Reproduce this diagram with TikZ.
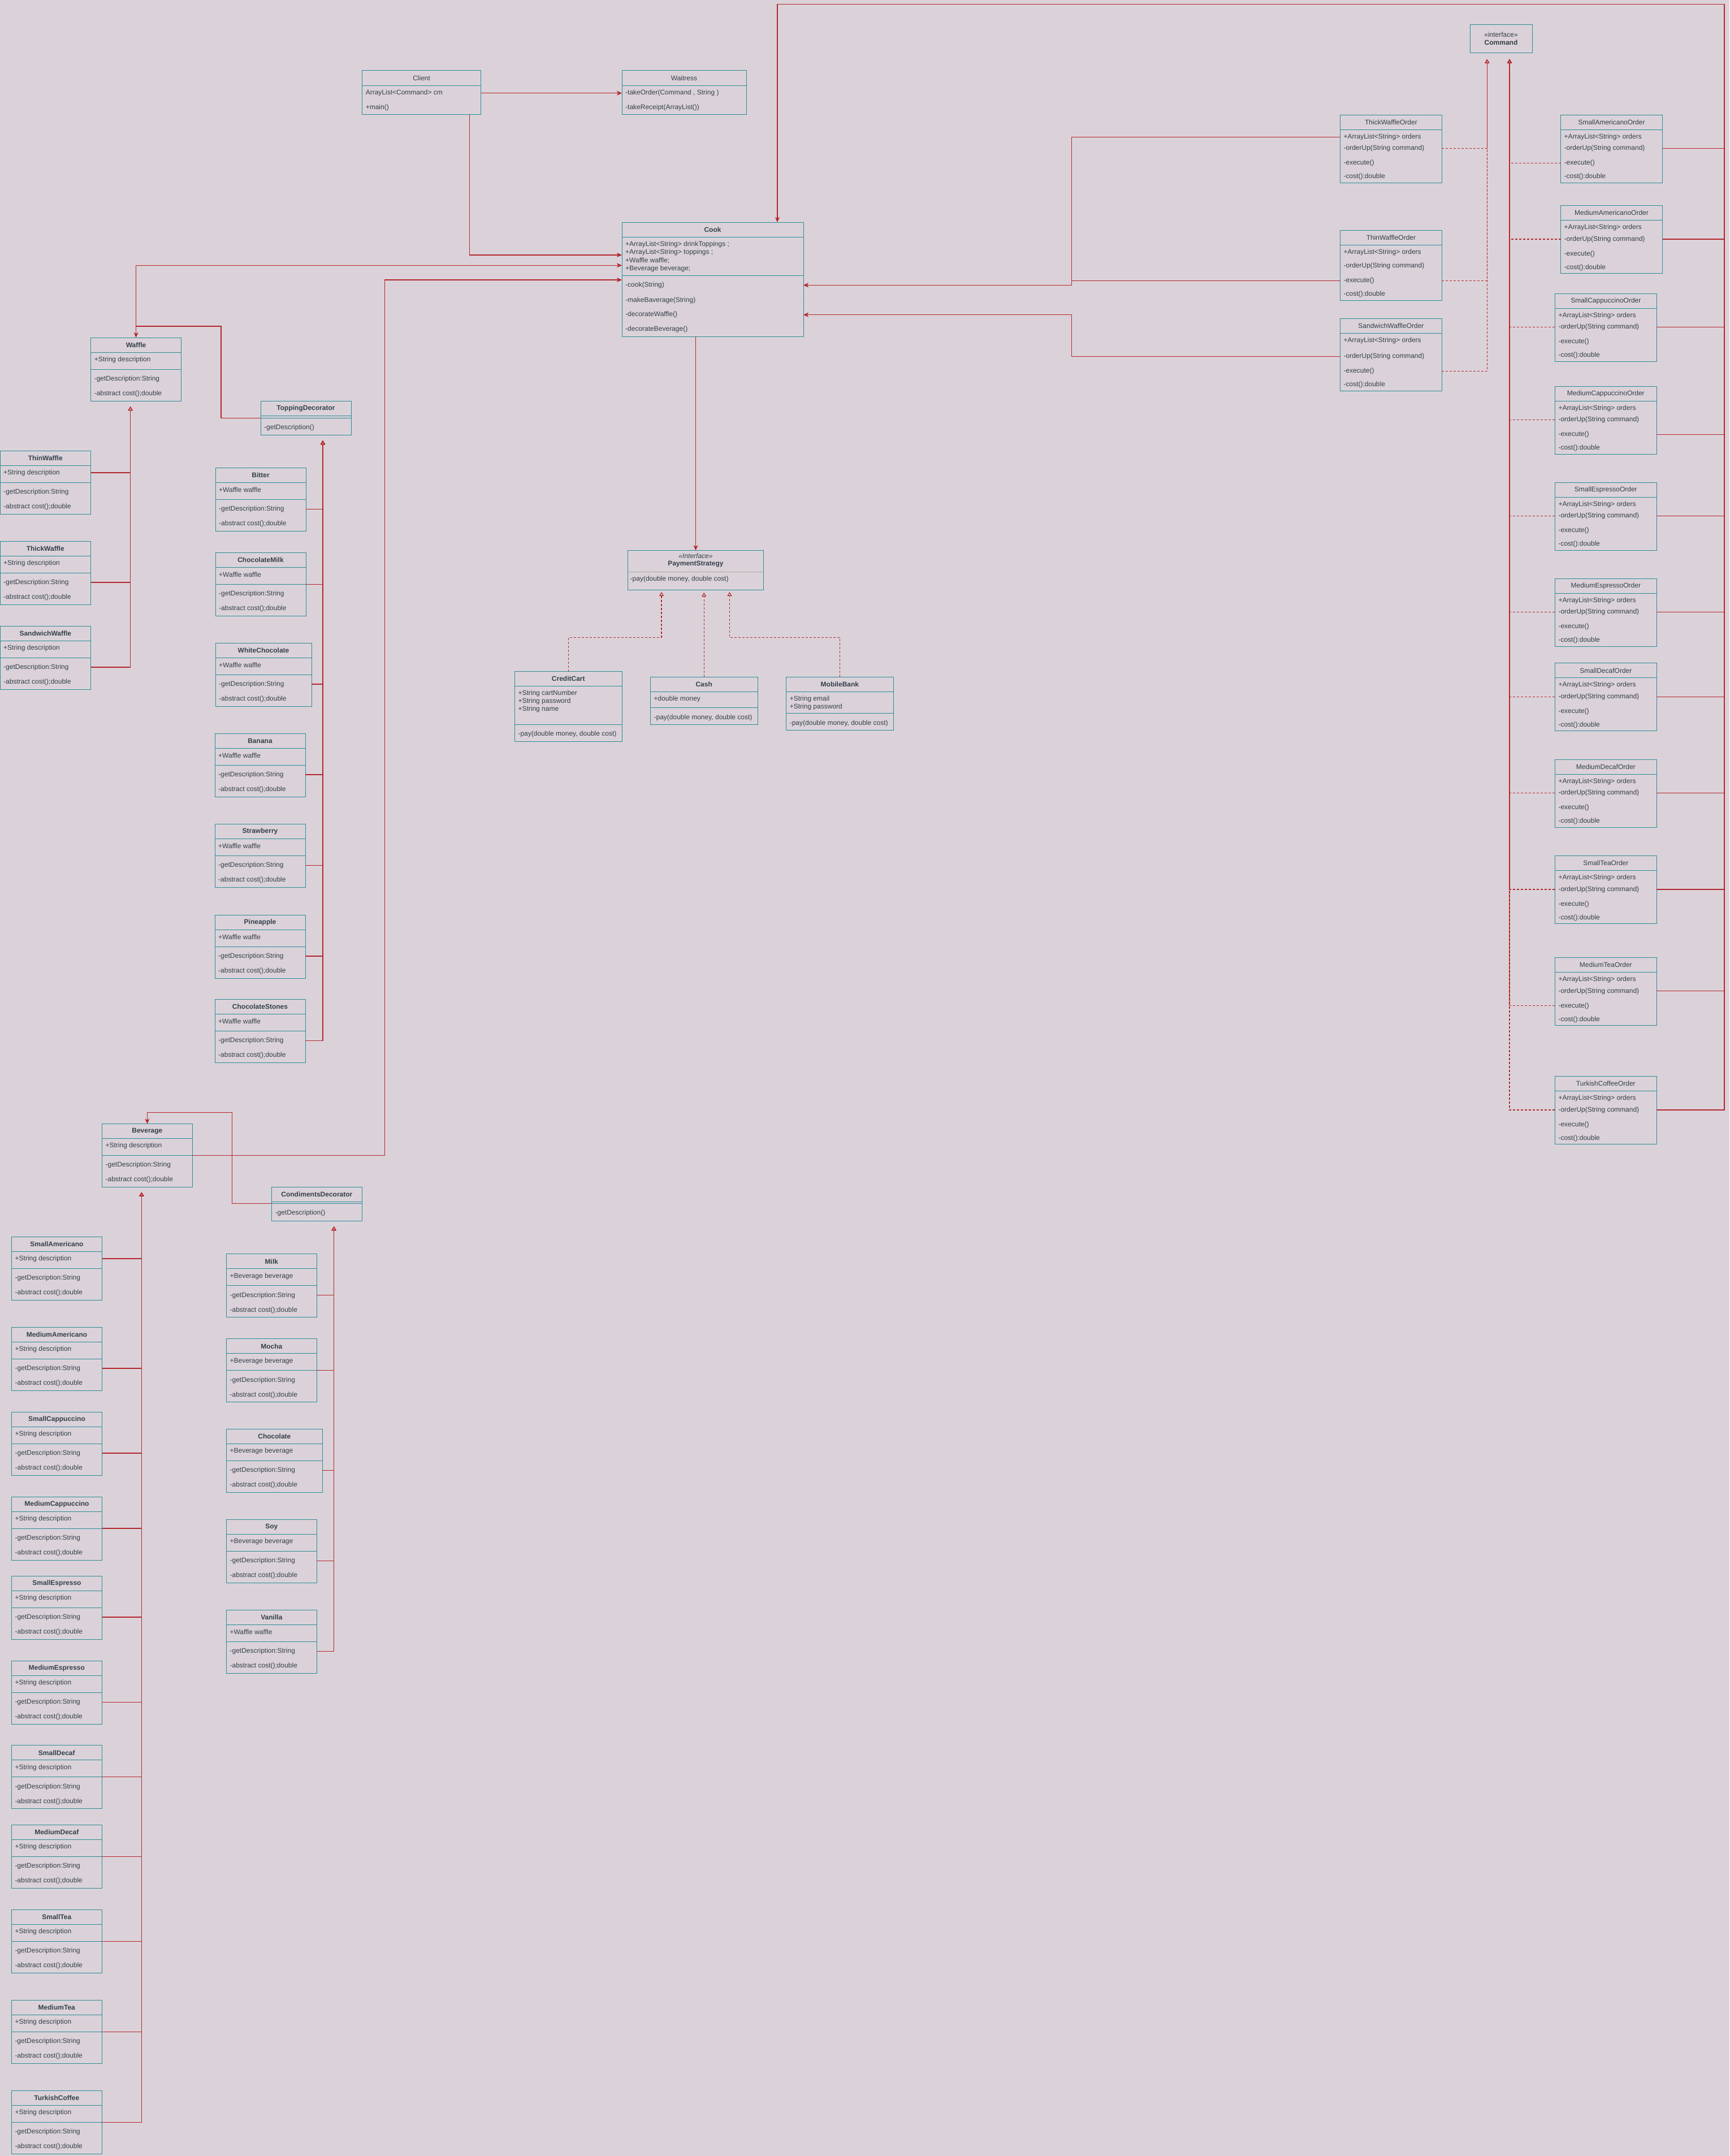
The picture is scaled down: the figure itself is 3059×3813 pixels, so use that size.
\documentclass[tikz,border=0pt]{standalone}
\usepackage{fontspec}
\setmainfont{Liberation Sans}
\usetikzlibrary{arrows.meta}

\definecolor{paper}{HTML}{DBD2D9}
\definecolor{boxteal}{HTML}{2A8C96}
\definecolor{linered}{HTML}{B3262B}
\definecolor{ink}{HTML}{333F48}

\tikzset{
  classbox/.style={draw=boxteal, line width=1pt, anchor=north west, inner sep=0pt, outer sep=0pt},
  divider/.style={draw=boxteal, line width=1pt},
  member/.style={anchor=west, inner xsep=6pt, inner ysep=0pt, text=ink, font=\fontsize{12}{14}\selectfont},
  btitle/.style={inner sep=0pt, text=ink, font=\fontsize{12}{14}\selectfont\bfseries},
  rtitle/.style={inner sep=0pt, text=ink, font=\fontsize{12}{14}\selectfont},
  wire/.style={draw=linered, line width=1.1pt},
  assoc/.style={wire, -{Stealth[length=9pt,width=8pt,inset=2.5pt]}},
  gen/.style={wire, -{Triangle[open,length=7pt,width=8pt]}},
  real/.style={gen, dash pattern=on 4pt off 3pt},
}

% name, x, y, width, title, field
\newcommand{\waffleclass}[6]{%
  \node[classbox, minimum width=#4pt, minimum height=112pt] (#1) at (#2,#3) {};
  \node[btitle] at ([yshift=-13pt]#1.north) {#5};
  \draw[divider] ([yshift=-26pt]#1.north west) -- ([yshift=-26pt]#1.north east);
  \draw[divider] ([yshift=-56pt]#1.north west) -- ([yshift=-56pt]#1.north east);
  \coordinate (#1-sep) at ([yshift=-56pt]#1.north west);
  \node[member] (#1-field) at ([yshift=-39pt]#1.north west) {#6};
  \node[member] (#1-get) at ([yshift=-73pt]#1.north west) {-getDescription:String};
  \node[member] (#1-cost) at ([yshift=-99pt]#1.north west) {-abstract cost();double};
}

% name, x, y, stretch, title
\newcommand{\orderclass}[5]{%
  \pgfmathsetmacro\ordh{120+#4}%
  \pgfmathsetmacro\ordup{-59.4-#4}%
  \pgfmathsetmacro\ordex{-85.4-#4}%
  \pgfmathsetmacro\ordco{-109.4-#4}%
  \node[classbox, minimum width=180pt, minimum height=\ordh pt] (#1) at (#2,#3) {};
  \node[rtitle] at ([yshift=-13pt]#1.north) {#5};
  \draw[divider] ([yshift=-26pt]#1.north west) -- ([yshift=-26pt]#1.north east);
  \node[member] (#1-list) at ([yshift=-39pt]#1.north west) {+ArrayList<String> orders};
  \node[member] (#1-up) at ([yshift=\ordup pt]#1.north west) {-orderUp(String command)};
  \node[member] (#1-exec) at ([yshift=\ordex pt]#1.north west) {-execute()};
  \node[member] (#1-cost) at ([yshift=\ordco pt]#1.north west) {-cost():double};
}

% name, x, y, title
\newcommand{\decoclass}[4]{%
  \node[classbox, minimum width=160pt, minimum height=60pt] (#1) at (#2,#3) {};
  \node[btitle] at ([yshift=-13pt]#1.north) {#4};
  \draw[divider] ([yshift=-26pt]#1.north west) -- ([yshift=-26pt]#1.north east);
  \draw[divider] ([yshift=-29.5pt]#1.north west) -- ([yshift=-29.5pt]#1.north east);
  \coordinate (#1-link) at ([yshift=-29.5pt]#1.north west);
  \node[member] (#1-get) at ([yshift=-46.5pt]#1.north west) {-getDescription()};
}

\begin{document}
\begin{tikzpicture}[x=1pt, y=-1pt]

\path[use as bounding box, fill=paper] (0,0) rectangle (3059,3813);

% client and waitress
\node[classbox, minimum width=210pt, minimum height=78pt] (Client) at (640.6,125) {};
\node[rtitle] at ([yshift=-13.3pt]Client.north) {Client};
\draw[divider] ([yshift=-26.7pt]Client.north west) -- ([yshift=-26.7pt]Client.north east);
\node[member] (Client-cm) at ([yshift=-39.7pt]Client.north west) {ArrayList<Command> cm};
\node[member] (Client-main) at ([yshift=-65.7pt]Client.north west) {+main()};

\node[classbox, minimum width=220pt, minimum height=78pt] (Waitress) at (1100,125) {};
\node[rtitle] at ([yshift=-13.3pt]Waitress.north) {Waitress};
\draw[divider] ([yshift=-26.7pt]Waitress.north west) -- ([yshift=-26.7pt]Waitress.north east);
\node[member] (Waitress-take) at ([yshift=-39.7pt]Waitress.north west) {-takeOrder(Command , String )};
\node[member] (Waitress-receipt) at ([yshift=-65.7pt]Waitress.north west) {-takeReceipt(ArrayList())};

% cook
\node[classbox, minimum width=321pt, minimum height=202pt] (Cook) at (1100,393) {};
\node[btitle] at ([yshift=-13pt]Cook.north) {Cook};
\draw[divider] ([yshift=-26pt]Cook.north west) -- ([yshift=-26pt]Cook.north east);
\draw[divider] ([yshift=-94pt]Cook.north west) -- ([yshift=-94pt]Cook.north east);
\node[member] (Cook-drinks) at ([yshift=-39.7pt]Cook.north west) {+ArrayList<String> drinkToppings ;};
\node[member] (Cook-toppings) at ([yshift=-53.7pt]Cook.north west) {+ArrayList<String> toppings ;};
\node[member] (Cook-waffle) at ([yshift=-68pt]Cook.north west) {+Waffle waffle;};
\node[member] (Cook-beverage) at ([yshift=-82pt]Cook.north west) {+Beverage beverage;};
\node[member] (Cook-cook) at ([yshift=-111.3pt]Cook.north west) {-cook(String)};
\node[member] (Cook-make) at ([yshift=-138pt]Cook.north west) {-makeBaverage(String)};
\node[member] (Cook-dwaffle) at ([yshift=-163.7pt]Cook.north west) {-decorateWaffle()};
\node[member] (Cook-dbev) at ([yshift=-189.7pt]Cook.north west) {-decorateBeverage()};
\coordinate (cookInClient) at ([yshift=-58pt]Cook.north west);
\coordinate (cookInWaffle) at ([yshift=-76.3pt]Cook.north west);
\coordinate (cookInBev) at ([yshift=-102pt]Cook.north west);

% command and the orders
\node[classbox, minimum width=110pt, minimum height=50pt] (Command) at (2600,43.6) {};
\node[rtitle, align=center] at (Command.center) {«interface»\\\textbf{Command}};

\orderclass{ThickWaffleOrder}{2370.4}{203.4}{0}{ThickWaffleOrder}
\orderclass{ThinWaffleOrder}{2370.4}{407.3}{4}{ThinWaffleOrder}
\orderclass{SandwichWaffleOrder}{2370.4}{563.4}{8}{SandwichWaffleOrder}

\orderclass{SmallAmericanoOrder}{2760.5}{203.4}{0}{SmallAmericanoOrder}
\orderclass{MediumAmericanoOrder}{2760.5}{363.6}{0}{MediumAmericanoOrder}
\orderclass{SmallCappuccinoOrder}{2750.3}{519.3}{0}{SmallCappuccinoOrder}
\orderclass{MediumCappuccinoOrder}{2750.3}{683.3}{0}{MediumCappuccinoOrder}
\orderclass{SmallEspressoOrder}{2750.3}{853.3}{0}{SmallEspressoOrder}
\orderclass{MediumEspressoOrder}{2750.3}{1023}{0}{MediumEspressoOrder}
\orderclass{SmallDecafOrder}{2750.3}{1172.7}{0}{SmallDecafOrder}
\orderclass{MediumDecafOrder}{2750.3}{1343}{0}{MediumDecafOrder}
\orderclass{SmallTeaOrder}{2750.3}{1513.6}{0}{SmallTeaOrder}
\orderclass{MediumTeaOrder}{2750.3}{1693.5}{0}{MediumTeaOrder}
\orderclass{TurkishCoffeeOrder}{2750.3}{1903.6}{0}{TurkishCoffeeOrder}

% waffles and toppings
\waffleclass{Waffle}{160.6}{597}{160}{Waffle}{+String description}
\decoclass{ToppingDecorator}{461}{709.6}{ToppingDecorator}
\waffleclass{ThinWaffle}{0}{797}{160.6}{ThinWaffle}{+String description}
\waffleclass{ThickWaffle}{0}{957}{160.6}{ThickWaffle}{+String description}
\waffleclass{SandwichWaffle}{0}{1107}{160.6}{SandwichWaffle}{+String description}

\waffleclass{Bitter}{381}{827.6}{160}{Bitter}{+Waffle waffle}
\waffleclass{ChocolateMilk}{381}{977.6}{160}{ChocolateMilk}{+Waffle waffle}
\waffleclass{WhiteChocolate}{381}{1137}{170}{WhiteChocolate}{+Waffle waffle}
\waffleclass{Banana}{380}{1297}{160}{Banana}{+Waffle waffle}
\waffleclass{Strawberry}{380}{1457.4}{160}{Strawberry}{+Waffle waffle}
\waffleclass{Pineapple}{380}{1618}{160}{Pineapple}{+Waffle waffle}
\waffleclass{ChocolateStones}{380}{1767.4}{160}{ChocolateStones}{+Waffle waffle}

% beverages and condiments
\waffleclass{Beverage}{180.4}{1987.5}{160}{Beverage}{+String description}
\decoclass{CondimentsDecorator}{480.4}{2099.3}{CondimentsDecorator}
\waffleclass{SmallAmericano}{20.5}{2187}{160}{SmallAmericano}{+String description}
\waffleclass{MediumAmericano}{20.5}{2347}{160}{MediumAmericano}{+String description}
\waffleclass{SmallCappuccino}{20.5}{2497}{160}{SmallCappuccino}{+String description}
\waffleclass{MediumCappuccino}{20.5}{2647}{160}{MediumCappuccino}{+String description}
\waffleclass{SmallEspresso}{20.5}{2787}{160}{SmallEspresso}{+String description}
\waffleclass{MediumEspresso}{20.3}{2937.7}{160}{MediumEspresso}{+String description}
\waffleclass{SmallDecaf}{20.3}{3086.9}{160}{SmallDecaf}{+String description}
\waffleclass{MediumDecaf}{20.3}{3227.5}{160}{MediumDecaf}{+String description}
\waffleclass{SmallTea}{20.3}{3377.3}{160}{SmallTea}{+String description}
\waffleclass{MediumTea}{20.3}{3537.3}{160}{MediumTea}{+String description}
\waffleclass{TurkishCoffee}{20.3}{3697.3}{160}{TurkishCoffee}{+String description}

\waffleclass{Milk}{400.4}{2217.9}{160}{Milk}{+Beverage beverage}
\waffleclass{Mocha}{400.4}{2367.9}{160}{Mocha}{+Beverage beverage}
\waffleclass{Chocolate}{400.4}{2527.2}{170}{Chocolate}{+Beverage beverage}
\waffleclass{Soy}{400.4}{2687.3}{160}{Soy}{+Beverage beverage}
\waffleclass{Vanilla}{400.4}{2847.3}{160}{Vanilla}{+Waffle waffle}

% payment
\node[classbox, minimum width=240pt, minimum height=70pt] (PaymentStrategy) at (1110.5,973.3) {};
\node[rtitle] at ([yshift=-10pt]PaymentStrategy.north) {\itshape <<Interface>>};
\node[btitle] at ([yshift=-24.4pt]PaymentStrategy.north) {PaymentStrategy};
\draw[draw=gray!70, line width=1pt] ([yshift=-38pt]PaymentStrategy.north west) -- ([yshift=-38pt]PaymentStrategy.north east);
\node[member, inner xsep=4pt] (PaymentStrategy-pay) at ([yshift=-51.4pt]PaymentStrategy.north west) {-pay(double money, double cost)};

\node[classbox, minimum width=190pt, minimum height=123.3pt] (CreditCart) at (910.3,1187.7) {};
\node[btitle] at ([yshift=-12.8pt]CreditCart.north) {CreditCart};
\draw[divider] ([yshift=-25.6pt]CreditCart.north west) -- ([yshift=-25.6pt]CreditCart.north east);
\draw[divider] ([yshift=-94pt]CreditCart.north west) -- ([yshift=-94pt]CreditCart.north east);
\node[member] (CreditCart-number) at ([yshift=-39pt]CreditCart.north west) {+String cartNumber};
\node[member] (CreditCart-password) at ([yshift=-53pt]CreditCart.north west) {+String password};
\node[member] (CreditCart-name) at ([yshift=-67pt]CreditCart.north west) {+String name};
\node[member] (CreditCart-pay) at ([yshift=-111pt]CreditCart.north west) {-pay(double money, double cost)};

\node[classbox, minimum width=189.6pt, minimum height=84pt] (Cash) at (1150.4,1197.3) {};
\node[btitle] at ([yshift=-13pt]Cash.north) {Cash};
\draw[divider] ([yshift=-26pt]Cash.north west) -- ([yshift=-26pt]Cash.north east);
\draw[divider] ([yshift=-54pt]Cash.north west) -- ([yshift=-54pt]Cash.north east);
\node[member] (Cash-money) at ([yshift=-39.4pt]Cash.north west) {+double money};
\node[member] (Cash-pay) at ([yshift=-71.7pt]Cash.north west) {-pay(double money, double cost)};

\node[classbox, minimum width=189.6pt, minimum height=93.7pt] (MobileBank) at (1390.6,1197.3) {};
\node[btitle] at ([yshift=-13pt]MobileBank.north) {MobileBank};
\draw[divider] ([yshift=-26pt]MobileBank.north west) -- ([yshift=-26pt]MobileBank.north east);
\draw[divider] ([yshift=-64.4pt]MobileBank.north west) -- ([yshift=-64.4pt]MobileBank.north east);
\node[member] (MobileBank-email) at ([yshift=-39.4pt]MobileBank.north west) {+String email};
\node[member] (MobileBank-password) at ([yshift=-53.4pt]MobileBank.north west) {+String password};
\node[member] (MobileBank-pay) at ([yshift=-81.7pt]MobileBank.north west) {-pay(double money, double cost)};

% connectors
\coordinate (busL) at (1375,7.3);
\coordinate (busR) at (3050,7.3);
\coordinate (wjoin) at (1895.5,0);
\coordinate (cmdTipL) at (2630.3,104.7);
\coordinate (cmdTipR) at (2670,104.7);
\coordinate (waffleTip) at (230.7,719);
\coordinate (toppingTip) at (571,779);
\coordinate (beverageTip) at (250.4,2108.7);
\coordinate (condimentTip) at (590.6,2169);
\coordinate (waffleJoin) at ([yshift=20pt]Waffle.north);
\coordinate (tdBend) at (391,577);
\coordinate (bevJoin) at ([yshift=20.1pt]Beverage.north);
\coordinate (cdBend) at (410.3,1967.4);
\coordinate (bevRise) at (680.4,0);
\coordinate (payBar) at (0,1127.3);
\coordinate (payTipA) at (1170,1047);
\coordinate (payTipB) at (1245.2,1048);
\coordinate (payTipC) at (1290.5,1047);

\draw[assoc] (Client.east |- Client-cm) -- (Waitress.west |- Client-cm);
\draw[assoc] ([xshift=-20.4pt]Client.south east) |- (cookInClient);
\draw[assoc] (waffleJoin) |- (cookInWaffle);
\draw[assoc] (Beverage.east |- Beverage-sep) -| (bevRise |- cookInBev) -- (cookInBev);
\draw[assoc] (PaymentStrategy.north |- Cook.south) -- (PaymentStrategy.north);

\draw[assoc] (TurkishCoffeeOrder.east |- TurkishCoffeeOrder-up) -| (busR) -- (busL) -- (busL |- Cook.north);
\draw[wire] (SmallAmericanoOrder.east |- SmallAmericanoOrder-up) -- (busR |- SmallAmericanoOrder-up);
\draw[wire] (MediumAmericanoOrder.east |- MediumAmericanoOrder-up) -- (busR |- MediumAmericanoOrder-up);
\draw[wire] (SmallCappuccinoOrder.east |- SmallCappuccinoOrder-up) -- (busR |- SmallCappuccinoOrder-up);
\draw[wire] (MediumCappuccinoOrder.east |- MediumCappuccinoOrder-exec) -- (busR |- MediumCappuccinoOrder-exec);
\draw[wire] (SmallEspressoOrder.east |- SmallEspressoOrder-up) -- (busR |- SmallEspressoOrder-up);
\draw[wire] (MediumEspressoOrder.east |- MediumEspressoOrder-up) -- (busR |- MediumEspressoOrder-up);
\draw[wire] (SmallDecafOrder.east |- SmallDecafOrder-up) -- (busR |- SmallDecafOrder-up);
\draw[wire] (MediumDecafOrder.east |- MediumDecafOrder-up) -- (busR |- MediumDecafOrder-up);
\draw[wire] (SmallTeaOrder.east |- SmallTeaOrder-up) -- (busR |- SmallTeaOrder-up);
\draw[wire] (MediumTeaOrder.east |- MediumTeaOrder-up) -- (busR |- MediumTeaOrder-up);

\draw[assoc] (ThickWaffleOrder.west |- ThickWaffleOrder-list) -| (wjoin |- Cook-cook) -- (Cook.east |- Cook-cook);
\draw[wire] (ThinWaffleOrder.west |- ThinWaffleOrder-exec) -- (wjoin |- ThinWaffleOrder-exec);
\draw[assoc] (SandwichWaffleOrder.west |- SandwichWaffleOrder-up) -| (wjoin |- Cook-dwaffle) -- (Cook.east |- Cook-dwaffle);

\draw[real] (ThickWaffleOrder.east |- ThickWaffleOrder-up) -| (cmdTipL);
\draw[real] (ThinWaffleOrder.east |- ThinWaffleOrder-exec) -| (cmdTipL);
\draw[real] (SandwichWaffleOrder.east |- SandwichWaffleOrder-exec) -| (cmdTipL);
\draw[real] (SmallAmericanoOrder.west |- SmallAmericanoOrder-exec) -| (cmdTipR);
\draw[real] (MediumAmericanoOrder.west |- MediumAmericanoOrder-up) -| (cmdTipR);
\draw[real] (SmallCappuccinoOrder.west |- SmallCappuccinoOrder-up) -| (cmdTipR);
\draw[real] (MediumCappuccinoOrder.west |- MediumCappuccinoOrder-up) -| (cmdTipR);
\draw[real] (SmallEspressoOrder.west |- SmallEspressoOrder-up) -| (cmdTipR);
\draw[real] (MediumEspressoOrder.west |- MediumEspressoOrder-up) -| (cmdTipR);
\draw[real] (SmallDecafOrder.west |- SmallDecafOrder-up) -| (cmdTipR);
\draw[real] (MediumDecafOrder.west |- MediumDecafOrder-up) -| (cmdTipR);
\draw[real] (SmallTeaOrder.west |- SmallTeaOrder-up) -| (cmdTipR);
\draw[real] (MediumTeaOrder.west |- MediumTeaOrder-exec) -| (cmdTipR);
\draw[real] (TurkishCoffeeOrder.west |- TurkishCoffeeOrder-up) -| (cmdTipR);

\draw[real] (CreditCart.north) -- (CreditCart.north |- payBar) -| (payTipA);
\draw[real] (Cash.north) -- (payTipB);
\draw[real] (MobileBank.north) -- (MobileBank.north |- payBar) -| (payTipC);

\draw[assoc] (ToppingDecorator-link) -| (tdBend) -- (waffleJoin) -- (Waffle.north);
\draw[gen] (ThinWaffle.east |- ThinWaffle-field) -| (waffleTip);
\draw[gen] (ThickWaffle.east |- ThickWaffle-get) -| (waffleTip);
\draw[gen] (SandwichWaffle.east |- SandwichWaffle-get) -| (waffleTip);

\draw[gen] (Bitter.east |- Bitter-get) -| (toppingTip);
\draw[gen] (ChocolateMilk.east |- ChocolateMilk-sep) -| (toppingTip);
\draw[gen] (WhiteChocolate.east |- WhiteChocolate-get) -| (toppingTip);
\draw[gen] (Banana.east |- Banana-get) -| (toppingTip);
\draw[gen] (Strawberry.east |- Strawberry-get) -| (toppingTip);
\draw[gen] (Pineapple.east |- Pineapple-get) -| (toppingTip);
\draw[gen] (ChocolateStones.east |- ChocolateStones-get) -| (toppingTip);

\draw[assoc] (CondimentsDecorator-link) -| (cdBend) -- (bevJoin) -- (Beverage.north);
\draw[gen] (SmallAmericano.east |- SmallAmericano-field) -| (beverageTip);
\draw[gen] (MediumAmericano.east |- MediumAmericano-get) -| (beverageTip);
\draw[gen] (SmallCappuccino.east |- SmallCappuccino-get) -| (beverageTip);
\draw[gen] (MediumCappuccino.east |- MediumCappuccino-sep) -| (beverageTip);
\draw[gen] (SmallEspresso.east |- SmallEspresso-get) -| (beverageTip);
\draw[gen] (MediumEspresso.east |- MediumEspresso-get) -| (beverageTip);
\draw[gen] (SmallDecaf.east |- SmallDecaf-sep) -| (beverageTip);
\draw[gen] (MediumDecaf.east |- MediumDecaf-sep) -| (beverageTip);
\draw[gen] (SmallTea.east |- SmallTea-sep) -| (beverageTip);
\draw[gen] (MediumTea.east |- MediumTea-sep) -| (beverageTip);
\draw[gen] (TurkishCoffee.east |- TurkishCoffee-sep) -| (beverageTip);

\draw[gen] (Milk.east |- Milk-get) -| (condimentTip);
\draw[gen] (Mocha.east |- Mocha-sep) -| (condimentTip);
\draw[gen] (Chocolate.east |- Chocolate-get) -| (condimentTip);
\draw[gen] (Soy.east |- Soy-get) -| (condimentTip);
\draw[gen] (Vanilla.east |- Vanilla-get) -| (condimentTip);

\end{tikzpicture}
\end{document}
